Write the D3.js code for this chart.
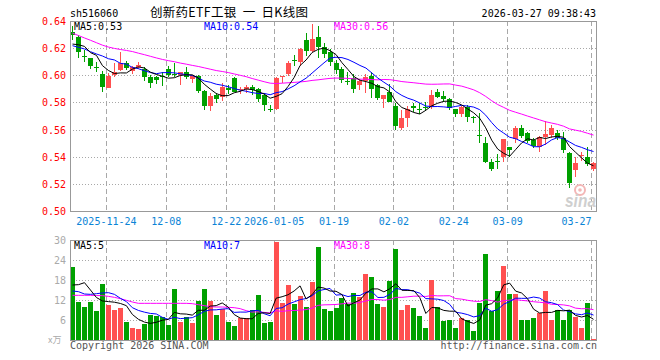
<!DOCTYPE html>
<html><head><meta charset="utf-8">
<script src="https://cdn.jsdelivr.net/npm/d3@7"></script>
<style>body{margin:0;background:#fff} svg{display:block}</style>
</head><body><svg id="c" width="660" height="360"></svg>
<script>
// ---------- data ----------
const dates = [
"2025-11-14","2025-11-17","2025-11-18","2025-11-19","2025-11-20","2025-11-21","2025-11-24","2025-11-25","2025-11-26","2025-11-27","2025-11-28",
"2025-12-01","2025-12-02","2025-12-03","2025-12-04","2025-12-05","2025-12-08","2025-12-09","2025-12-10","2025-12-11","2025-12-12",
"2025-12-15","2025-12-16","2025-12-17","2025-12-18","2025-12-19","2025-12-22","2025-12-23","2025-12-24","2025-12-25","2025-12-26",
"2025-12-29","2025-12-30","2025-12-31",
"2026-01-05","2026-01-06","2026-01-07","2026-01-08","2026-01-09","2026-01-12","2026-01-13","2026-01-14","2026-01-15","2026-01-16",
"2026-01-19","2026-01-20","2026-01-21","2026-01-22","2026-01-23","2026-01-26","2026-01-27","2026-01-28","2026-01-29","2026-01-30",
"2026-02-02","2026-02-03","2026-02-04","2026-02-05","2026-02-06","2026-02-09","2026-02-10","2026-02-11","2026-02-12","2026-02-13",
"2026-02-24","2026-02-25","2026-02-26","2026-02-27",
"2026-03-02","2026-03-03","2026-03-04","2026-03-05","2026-03-06","2026-03-09","2026-03-10","2026-03-11","2026-03-12","2026-03-13",
"2026-03-16","2026-03-17","2026-03-18","2026-03-19","2026-03-20","2026-03-23","2026-03-24","2026-03-25","2026-03-26","2026-03-27"];

const openP = [0.632,0.6285,0.6145,0.6125,0.6058,0.601,0.591,0.6003,0.604,0.6088,0.603,0.6063,0.6044,0.5987,0.599,0.5996,0.6044,0.6008,0.6002,0.6024,
0.597,0.5997,0.5884,0.5776,0.5852,0.5842,0.5905,0.598,0.5895,0.5896,0.5916,0.5897,0.5856,0.5749,0.5753,0.599,0.601,0.611,0.6097,0.626,
0.618,0.628,0.621,0.6174,0.6093,0.6046,0.5958,0.5983,0.593,0.5958,0.5997,0.593,0.5822,0.588,0.5776,0.5614,0.5688,0.5774,0.5751,0.577,
0.577,0.5874,0.5847,0.5823,0.5749,0.5715,0.5769,0.5696,0.5561,0.5498,0.5358,0.5369,0.540,0.547,0.553,0.561,0.5572,0.5523,0.5474,0.5548,
0.556,0.5572,0.5535,0.543,0.5302,0.5408,0.5395,0.5308];
const closeP = [0.6295,0.6175,0.614,0.607,0.6055,0.5916,0.5997,0.6027,0.6093,0.6052,0.6058,0.6077,0.599,0.594,0.5966,0.5994,0.6003,0.6006,0.6024,0.599,
0.5995,0.5886,0.5776,0.5847,0.5823,0.5916,0.589,0.588,0.590,0.5911,0.5892,0.5823,0.5783,0.5747,0.5977,0.5993,0.609,0.6108,0.6192,0.618,
0.6267,0.6205,0.616,0.6095,0.6038,0.5965,0.5955,0.590,0.596,0.5988,0.590,0.5833,0.5855,0.5806,0.563,0.5688,0.575,0.5756,0.5749,0.5768,
0.5855,0.5843,0.5826,0.5757,0.5716,0.5764,0.5695,0.5684,0.5558,0.5363,0.531,0.5367,0.5528,0.545,0.561,0.5555,0.5518,0.5482,0.5548,0.5566,
0.5614,0.554,0.545,0.5204,0.5356,0.541,0.5344,0.5352];
const highP = [0.636,0.630,0.619,0.6128,0.610,0.6034,0.6015,0.6088,0.6174,0.6102,0.607,0.6097,0.6063,0.600,0.5995,0.6027,0.607,0.6093,0.6027,0.6063,
0.600,0.600,0.589,0.5867,0.5872,0.594,0.5925,0.599,0.5916,0.5925,0.593,0.5905,0.587,0.5778,0.599,0.5995,0.6105,0.615,0.620,0.631,
0.6378,0.6365,0.6235,0.6195,0.611,0.6063,0.6025,0.6013,0.5975,0.6007,0.6022,0.5935,0.5857,0.5935,0.5795,0.5745,0.5774,0.5793,0.5795,0.580,
0.589,0.5899,0.5884,0.583,0.5752,0.5776,0.578,0.5697,0.5725,0.5547,0.5383,0.5417,0.5529,0.5474,0.5626,0.5634,0.5585,0.5535,0.5555,0.5663,
0.5634,0.5597,0.558,0.5435,0.540,0.5432,0.547,0.5358];
const lowP = [0.626,0.6125,0.610,0.6044,0.6026,0.588,0.5904,0.599,0.6034,0.604,0.601,0.605,0.596,0.591,0.5936,0.5923,0.599,0.599,0.5928,0.597,
0.594,0.5872,0.5744,0.574,0.5798,0.581,0.5865,0.5874,0.5865,0.587,0.5856,0.5805,0.574,0.5728,0.5743,0.594,0.5995,0.6065,0.607,0.614,
0.6175,0.613,0.6125,0.6065,0.601,0.594,0.593,0.587,0.589,0.5867,0.583,0.5815,0.5757,0.580,0.5597,0.560,0.5622,0.5732,0.5715,0.5735,
0.5749,0.583,0.580,0.5744,0.5695,0.5695,0.5658,0.5646,0.5498,0.5351,0.5297,0.5309,0.5363,0.540,0.5498,0.5535,0.5498,0.5467,0.5437,0.5486,
0.554,0.5523,0.5425,0.5172,0.5253,0.5365,0.533,0.5298];
const volume = [22.0,11.5,9.9,11.5,8.8,16.9,10.5,9.0,9.6,5.5, 3.7,3.3,4.8,7.6,7.2,6.8,4.5,15.3,5.5,6.8,
5.2,11.8,15.3,11.8,7.5,9.2,5.5,4.2,6.5,6.6, 9.0,13.5,5.2,5.5,29.5,11.2,16.5,10.8,13.2,9.9,
17.5,28.0,9.3,8.8,9.5,12.5,10.8,14.2,13.0,19.8, 18.8,10.8,9.8,17.7,27.3,9.0,10.5,9.5,7.2,3.6,
18.0,9.8,5.8,6.0,3.6,6.5,6.0,2.7,11.2,25.8, 8.8,14.7,22.2,13.8,13.8,6.0,6.0,6.6,8.1,14.7,
6.0,9.0,6.0,9.0,6.9,3.6,11.2,0.3];

// moving-average values at the left edge (need days before the window)
const ma5Head  = [0.623,0.6225,0.6213,0.6167];
const ma10Head = [0.6218,0.6206,0.6194,0.6174,0.6157,0.6142,0.6122,0.6113,0.6088];
const ma30Head = [0.631,0.6293,0.6275,0.6258,0.624,0.6222,0.6208,0.6198,0.619,0.6183,0.6175,0.6163,0.6152,0.614,0.6128,
0.6117,0.6108,0.610,0.609,0.6082,0.6073,0.6065,0.6055,0.6045,0.6035,0.6028,0.602,0.601,0.600];
const vma5Head  = [16.5,16.6,17.2,15.0];
const vma10Head = [14.7,14.5,13.8,13.7,13.9,14.1,14.2,13.7,12.5];
const vma30Head = [13.4,13.4,13.4,13.4,13.35,13.3,13.1,12.8,12.4,11.9,11.4,11.0,11.0,11.0,11.0,11.0,11.0,11.0,11.0,11.0,
10.9,10.6,10.3,10.0,9.9,9.9,9.8,9.7,9.4];

const priceTicks = [0.64,0.62,0.60,0.58,0.56,0.54,0.52,0.50];
const volTicks = [30,24,18,12,6];
const tickDates  = ["2025-11-24","2025-12-08","2025-12-22","2026-01-05","2026-01-19","2026-02-02","2026-02-24","2026-03-09","2026-03-27"];
const tickLabels = ["2025-11-24","12-08","12-22","2026-01-05","01-19","02-02","02-24","03-09","03-27"];

// ---------- drawing ----------
const RED="#ff5050", GREEN="#00a000", GRID="#a8a8a8", FRAME="#999999";
const MONO="'DejaVu Sans Mono', 'Liberation Mono', monospace";
const svg = d3.select("#c");
const X0=70, X1=597, PT=21, PB=211, VT=240, VB=340;

const x = d3.scaleBand().domain(dates).range([X0, X1]);
const xi = d3.scaleLinear().domain([0, dates.length]).range([X0, X1]);
const y = d3.scaleLinear().domain([0.50, 0.64]).range([PB, PT]);
const vy = d3.scaleLinear().domain([0, 30]).range([VB, VT]);
const bx = d => Math.round(x(d));

function rolling(arr, n, head){
  return arr.map((v,i)=> i < n-1 ? head[i] : d3.mean(arr.slice(i-n+1, i+1)));
}
const ma5 = rolling(closeP,5,ma5Head), ma10 = rolling(closeP,10,ma10Head), ma30 = rolling(closeP,30,ma30Head);
const vma5 = rolling(volume,5,vma5Head), vma10 = rolling(volume,10,vma10Head), vma30 = rolling(volume,30,vma30Head);

// horizontal dotted grid
const g = svg.append("g").attr("shape-rendering","crispEdges");
priceTicks.slice(1,-1).forEach(t=>{
  g.append("line").attr("x1",X0).attr("x2",X1).attr("y1",Math.round(y(t))+0.5).attr("y2",Math.round(y(t))+0.5)
   .attr("stroke",GRID).attr("stroke-dasharray","1,2");
});
volTicks.slice(1).forEach(t=>{
  g.append("line").attr("x1",X0).attr("x2",X1).attr("y1",Math.round(vy(t))+0.5).attr("y2",Math.round(vy(t))+0.5)
   .attr("stroke",GRID).attr("stroke-dasharray","1,2");
});
// vertical dashed grid
tickDates.forEach(d=>{
  const xx = bx(d)+0.5;
  [[PT,PB],[VT,VB]].forEach(([a,b])=>{
    g.append("line").attr("x1",xx).attr("x2",xx).attr("y1",a).attr("y2",b)
     .attr("stroke",GRID).attr("stroke-dasharray","5,3");
  });
});

// watermark
svg.append("circle").attr("cx",580).attr("cy",190).attr("r",5).attr("fill","none").attr("stroke","#f3b6b6").attr("stroke-width",2);
svg.append("circle").attr("cx",580).attr("cy",190).attr("r",1.8).attr("fill","#f3b6b6");
svg.append("text").attr("x",565).attr("y",207).text("sina")
  .attr("textLength",31).attr("lengthAdjust","spacingAndGlyphs")
  .style("font","italic bold 18px 'Liberation Sans', Arial, sans-serif").attr("fill","#cfcfcf");

// candles
const cg = svg.append("g").attr("shape-rendering","crispEdges");
dates.forEach((d,i)=>{
  const o=openP[i], c=closeP[i], up = c>o;
  const col = up?RED:GREEN;
  const x0 = bx(d);
  const yh=Math.round(y(highP[i])), yl=Math.round(y(lowP[i]));
  cg.append("rect").attr("x",x0+2).attr("width",1).attr("y",yh).attr("height",Math.max(1,yl-yh)).attr("fill",col);
  const yt=Math.round(y(Math.max(o,c))), yb=Math.round(y(Math.min(o,c)));
  cg.append("rect").attr("x",x0).attr("width",5).attr("y",yt).attr("height",Math.max(1,yb-yt)).attr("fill",col);
  // volume
  const vt = Math.round(vy(volume[i]));
  cg.append("rect").attr("x",x0).attr("width",5).attr("y",vt).attr("height",Math.max(1,VB-vt)).attr("fill",col);
});

// MA lines
const cx = i => x(dates[i]) + 2.5;
function drawLine(vals, sc, color){
  svg.append("path").datum(vals)
    .attr("d", d3.line().x((v,i)=>cx(i)).y(v=>sc(v)))
    .attr("fill","none").attr("stroke",color).attr("stroke-width",1);
}
drawLine(ma30,y,"#ff00ff"); drawLine(ma10,y,"#0000ff"); drawLine(ma5,y,"#000000");
drawLine(vma30,vy,"#ff00ff"); drawLine(vma10,vy,"#0000ff"); drawLine(vma5,vy,"#000000");

// frames
const fg = svg.append("g").attr("shape-rendering","crispEdges");
fg.append("rect").attr("x",X0+0.5).attr("y",PT+0.5).attr("width",X1-X0-1).attr("height",PB-PT).attr("fill","none").attr("stroke",FRAME);
fg.append("rect").attr("x",X0+0.5).attr("y",VT+0.5).attr("width",X1-X0-1).attr("height",VB-VT).attr("fill","none").attr("stroke",FRAME);

// axes
const ay = svg.append("g").attr("transform",`translate(${X0-4},0)`)
  .call(d3.axisLeft(y).tickValues(priceTicks).tickFormat(d3.format(".2f")).tickSize(0).tickPadding(0));
ay.select(".domain").remove();
ay.selectAll("text").attr("fill","#ff0000").style("font",`10px ${MONO}`).attr("dy","0.35em");

const av = svg.append("g").attr("transform",`translate(${X0-4},0)`)
  .call(d3.axisLeft(vy).tickValues(volTicks).tickSize(0).tickPadding(0));
av.select(".domain").remove();
av.selectAll("text").attr("fill","#aaaaaa").style("font",`10px ${MONO}`).attr("dy","0.35em");

const ax = svg.append("g").attr("transform",`translate(0,${PB})`)
  .call(d3.axisBottom(xi).tickValues(tickDates.map(d=>dates.indexOf(d))).tickFormat((v,k)=>tickLabels[k]).tickSize(0));
ax.select(".domain").remove();
ax.selectAll("text").attr("fill","#0a84d6").style("font",`10px ${MONO}`).attr("y",14).attr("dy",0)
  .attr("text-anchor",(v,k)=> k===tickLabels.length-1 ? "end":"middle");

// header texts
const t = (txt,xx,yy,col,font,anchor)=>svg.append("text").attr("x",xx).attr("y",yy).text(txt)
   .attr("fill",col).style("font",font).attr("text-anchor",anchor||"start");
t("sh516060",70,17,"#000",`10px ${MONO}`);
t("创新药ETF工银\u00a0\u00a0一\u00a0\u00a0日K线图",150,17,"#000","12.5px 'Noto Sans CJK SC', sans-serif")
  .attr("textLength",158).attr("lengthAdjust","spacing");
t("2026-03-27 09:38:43",596,17,"#000",`10px ${MONO}`,"end");
t("MA5:"+d3.format(".2f")(ma5[ma5.length-1]),74,30,"#000",`10px ${MONO}`);
t("MA10:"+d3.format(".2f")(ma10[ma10.length-1]),204,30,"#0000ff",`10px ${MONO}`);
t("MA30:"+d3.format(".2f")(ma30[ma30.length-1]),334,30,"#ff00ff",`10px ${MONO}`);
t("MA5:5",74,249,"#000",`10px ${MONO}`);
t("MA10:7",204,249,"#0000ff",`10px ${MONO}`);
t("MA30:8",334,249,"#ff00ff",`10px ${MONO}`);
t("x万",48,343,"#aaaaaa",`9px 'Noto Sans CJK SC', sans-serif`);
t("Copyright 2026 SINA.COM",70,349,"#555",`10px ${MONO}`);
t("http://finance.sina.com.cn",597,349,"#555",`10px ${MONO}`,"end");
</script></body></html>
